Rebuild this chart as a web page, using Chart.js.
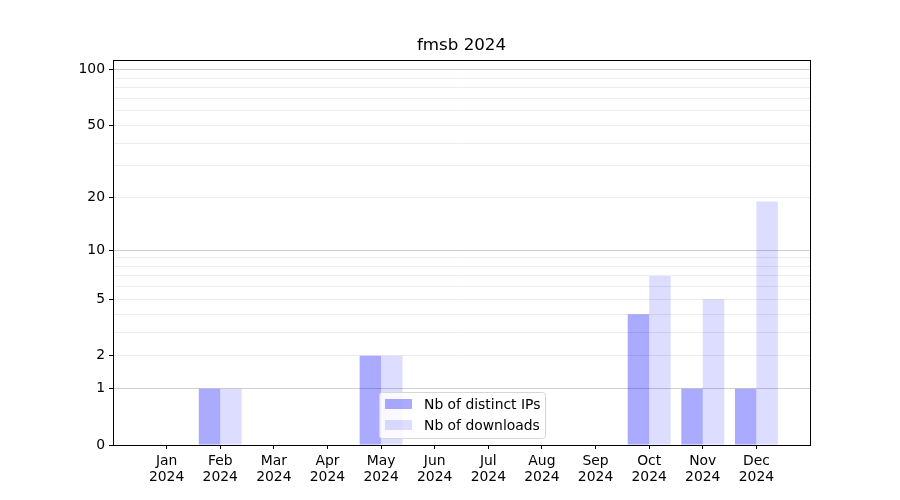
<!DOCTYPE html>
<html>
<head>
<meta charset="utf-8">
<title>fmsb 2024</title>
<script src="https://cdn.jsdelivr.net/npm/chart.js@4.4.1/dist/chart.umd.min.js"></script>
<style>
  body { margin: 0; background: #fff; }
  #wrap { width: 900px; height: 500px; }
</style>
</head>
<body>
<div id="wrap"><canvas id="chart" width="900" height="500"></canvas></div>
<script>
// data
const months = ['Jan', 'Feb', 'Mar', 'Apr', 'May', 'Jun', 'Jul', 'Aug', 'Sep', 'Oct', 'Nov', 'Dec'];
const year = '2024';
const title = 'fmsb 2024';
const distinctIPs = [0, 1, 0, 0, 2, 0, 0, 0, 0, 4, 1, 1];
const downloads = [0, 1, 0, 0, 2, 0, 0, 0, 0, 7, 5, 19];
const yTickLabels = [0, 1, 2, 5, 10, 20, 50, 100];
const yMajorGrid = [1, 10, 100];
const yMinorGrid = [2, 3, 4, 5, 6, 7, 8, 9, 20, 30, 40, 50, 60, 70, 80, 90];
const yTop = 113;

// y axis is log(1 + v)
const tr = v => Math.log10(1 + v);
const allYTicks = [0].concat(yMajorGrid, yMinorGrid).sort((a, b) => a - b);

function points(arr) {
    return arr.map((v, i) => ({ x: i, y: tr(v) }));
}

function rawOf(val) {
    return Math.round(Math.pow(10, val) - 1);
}

const FONT = 'DejaVu Sans';
const FS = 13.9;

// title over the axes, box round the plot, legend inside at lower center
const framePlugin = {
    id: 'frame',
    afterDraw(chart) {
        const ctx = chart.ctx;
        const a = chart.chartArea;
        const cx = (a.left + a.right) / 2;

        ctx.save();
        ctx.fillStyle = '#000';
        ctx.font = '16.7px "' + FONT + '"';
        ctx.textAlign = 'center';
        ctx.textBaseline = 'middle';
        ctx.fillText(title, cx, a.top - 14);
        ctx.restore();

        // legend
        const items = chart.data.datasets;
        const w = 166, h = 46;
        const lx = Math.round(cx - w / 2);
        const ly = Math.round(a.bottom - 7 - h);
        ctx.save();
        ctx.beginPath();
        ctx.roundRect(lx + 0.5, ly + 0.5, w, h, 3);
        ctx.fillStyle = 'rgba(255,255,255,0.8)';
        ctx.fill();
        ctx.strokeStyle = '#d6d6d6';
        ctx.lineWidth = 1;
        ctx.stroke();
        ctx.font = FS + 'px "' + FONT + '"';
        ctx.textBaseline = 'middle';
        items.forEach((ds, i) => {
            const rowY = ly + 12 + i * 21;
            ctx.fillStyle = ds.backgroundColor;
            ctx.fillRect(lx + 6, rowY - 5, 27, 10);
            ctx.fillStyle = '#000';
            ctx.fillText(ds.label, lx + 45, rowY + 1);
        });
        ctx.restore();

        ctx.save();
        ctx.strokeStyle = '#000';
        ctx.lineWidth = 1;
        ctx.strokeRect(Math.round(a.left) + 0.5, Math.round(a.top) + 0.5,
            Math.round(a.right - a.left), Math.round(a.bottom - a.top));
        ctx.restore();
    }
};

const chart = new Chart(document.querySelector('#chart'), {
    type: 'bar',
    data: {
        datasets: [
            {
                label: 'Nb of distinct IPs',
                data: points(distinctIPs),
                backgroundColor: 'rgba(0,0,255,0.333)',
                borderWidth: 0
            },
            {
                label: 'Nb of downloads',
                data: points(downloads),
                backgroundColor: 'rgba(0,0,255,0.133)',
                borderWidth: 0
            }
        ]
    },
    options: {
        responsive: false,
        animation: false,
        events: [],
        layout: { padding: { left: 0, right: 90, top: 60, bottom: 0 } },
        datasets: {
            bar: { barPercentage: 1.0, categoryPercentage: 0.8 }
        },
        plugins: {
            legend: { display: false },
            tooltip: { enabled: false },
            title: { display: false }
        },
        scales: {
            x: {
                type: 'linear',
                min: -1,
                max: 12,
                offset: false,
                afterBuildTicks: s => { s.ticks = months.map((m, i) => ({ value: i })); },
                afterFit: s => { s.height = 55; },
                border: { display: false },
                grid: {
                    offset: false,
                    drawOnChartArea: false,
                    drawTicks: true,
                    tickLength: 4,
                    tickColor: '#000'
                },
                ticks: {
                    autoSkip: false,
                    maxRotation: 0,
                    padding: 5,
                    color: '#000',
                    font: { family: FONT, size: FS, lineHeight: 1.12 },
                    callback: v => [months[v], year]
                }
            },
            y: {
                type: 'linear',
                min: 0,
                max: tr(yTop),
                afterBuildTicks: s => { s.ticks = allYTicks.map(t => ({ value: tr(t) })); },
                afterFit: s => { s.width = 113; },
                border: { display: false },
                grid: {
                    drawTicks: true,
                    tickLength: 4,
                    color: c => {
                        const r = rawOf(c.tick.value);
                        if (r === 0) return 'rgba(0,0,0,0)';
                        return yMajorGrid.includes(r) ? '#cfcfcf' : '#ececec';
                    },
                    tickColor: c => yTickLabels.includes(rawOf(c.tick.value)) ? '#000' : 'rgba(0,0,0,0)'
                },
                ticks: {
                    autoSkip: false,
                    padding: 4,
                    color: '#000',
                    font: { family: FONT, size: FS },
                    callback: v => {
                        const r = rawOf(v);
                        return yTickLabels.includes(r) ? String(r) : '';
                    }
                }
            }
        }
    },
    plugins: [framePlugin]
});
</script>
</body>
</html>
